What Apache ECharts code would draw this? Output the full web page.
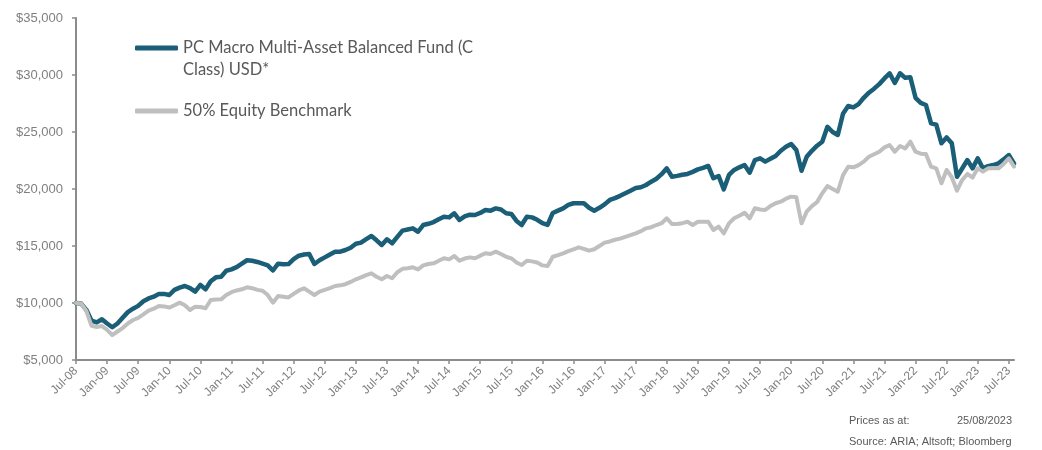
<!DOCTYPE html>
<html>
<head>
<meta charset="utf-8">
<script src="https://cdn.jsdelivr.net/npm/echarts@6/dist/echarts.min.js"></script>
<style>
  body { margin: 0; background: #fff; }
  #main { width: 1042px; height: 450px; }
</style>
</head>
<body>
<div id="main"></div>
<script>
// monthly values, Jul-08 .. Aug-23 (growth of $10,000)
const fundName = 'PC Macro Multi-Asset Balanced Fund (C Class) USD*'
const benchName = '50% Equity Benchmark'

const fund = [
  10000, 9950, 9400, 8450, 8300, 8570, 8200, 7870, 8200, 8700,
  9200, 9500, 9750, 10150, 10400, 10550, 10800, 10800, 10700, 11150,
  11350, 11490, 11300, 10990, 11580, 11200, 11900, 12250, 12310, 12830,
  12950, 13150, 13450, 13750, 13700, 13600, 13450, 13300, 12850, 13450,
  13400, 13420, 13850, 14150, 14250, 14300, 13420, 13750, 14000, 14250,
  14500, 14500, 14650, 14850, 15200, 15300, 15600, 15880, 15500, 15090,
  15590, 15240, 15800, 16350, 16450, 16550, 16250, 16840, 16950, 17100,
  17350, 17570, 17510, 17870, 17280, 17600, 17750, 17720, 17900, 18160,
  18100, 18300, 18200, 17870, 17810, 17200, 16840, 17570, 17510, 17300,
  17000, 16850, 17900, 18100, 18300, 18600, 18750, 18750, 18750, 18350,
  18100, 18350, 18650, 19040, 19200, 19400, 19620, 19850, 20080, 20150,
  20350, 20640, 20900, 21300, 21810, 21080, 21150, 21250, 21320, 21500,
  21720, 21850, 22020, 20940, 21140, 19970, 21230, 21670, 21900, 22110,
  21430, 22540, 22690, 22400, 22650, 22890, 23360, 23700, 23950, 23420,
  21600, 22830, 23350, 23800, 24150, 25460, 25000, 24740, 26600, 27280,
  27160, 27450, 28000, 28450, 28800, 29200, 29700, 30150, 29300, 30150,
  29750, 29800, 28000, 27550, 27370, 25760, 25650, 24010, 24530, 24010,
  21080, 21800, 22540, 21810, 22690, 21810, 22000, 22100, 22250, 22600,
  22980, 22250
]

const bench = [
  10000, 9950, 9300, 8000, 7900, 7980, 7650, 7190, 7500, 7800,
  8200, 8510, 8700, 9000, 9330, 9500, 9740, 9700, 9600, 9800,
  10030, 9800, 9390, 9680, 9650, 9540, 10260, 10300, 10320, 10700,
  10950, 11100, 11200, 11380, 11300, 11150, 11080, 10700, 10030, 10610,
  10550, 10490, 10800, 11100, 11290, 11000, 10700, 11000, 11150, 11300,
  11490, 11550, 11650, 11850, 12080, 12250, 12450, 12600, 12300, 12080,
  12370, 12170, 12700, 13000, 13050, 13130, 12950, 13300, 13420, 13480,
  13700, 13920, 13830, 14120, 13710, 13900, 14000, 13920, 14150, 14360,
  14300, 14500, 14300, 14060, 13920, 13550, 13330, 13710, 13650, 13550,
  13300, 13250, 14060, 14200, 14360, 14550, 14710, 14880, 14750, 14590,
  14710, 15000, 15300, 15400, 15550, 15650, 15800, 15950, 16110, 16300,
  16550, 16650, 16840, 17000, 17430, 16930, 16930, 17000, 17130, 16840,
  17130, 17130, 17130, 16400, 16700, 16110, 16990, 17430, 17650, 17920,
  17430, 18310, 18200, 18160, 18500, 18750, 18890, 19150, 19330, 19270,
  16990, 18010, 18500, 18850, 19620, 20260, 20000, 19770, 21200, 21960,
  21900, 22100, 22400, 22830, 23050, 23270, 23650, 23850, 23270, 23770,
  23560, 24150, 23270, 23100, 23070, 21960, 21810, 20500, 21670, 21030,
  19850, 20790, 21320, 21000, 21810, 21520, 21810, 21850, 21810, 22200,
  22690, 21960
]

const monthNames = ['Jan', 'Feb', 'Mar', 'Apr', 'May', 'Jun', 'Jul', 'Aug', 'Sep', 'Oct', 'Nov', 'Dec']
const dates = []
for (let i = 0; i < fund.length; i++) {
  const k = 6 + i
  dates.push(monthNames[k % 12] + '-' + String(8 + Math.floor(k / 12)).padStart(2, '0'))
}

const yMin = 5000
const yMax = 35000
const yStep = 5000

const axisGrey = '#8c8c8c'
const labelGrey = '#7f7f7f'
const textGrey = '#595959'

const myChart = echarts.init(document.getElementById('main'))
const option = {
  animation: false,
  grid: { left: 76, right: 28, top: 18, bottom: 90 },
  legend: [
    {
      data: [fundName],
      left: 135, top: 15, padding: 0,
      icon: 'roundRect', itemWidth: 43, itemHeight: 5,
      formatter: () => '\nPC Macro Multi-Asset Balanced Fund (C\nClass) USD*',
      textStyle: { fontFamily: 'Lato', fontSize: 16.5, color: textGrey, lineHeight: 22 }
    },
    {
      data: [benchName],
      left: 135, top: 100, padding: 0,
      icon: 'roundRect', itemWidth: 43, itemHeight: 5,
      textStyle: { fontFamily: 'Lato', fontSize: 16.5, color: textGrey, lineHeight: 22 }
    }
  ],
  xAxis: {
    type: 'category',
    data: dates,
    boundaryGap: false,
    axisLine: { lineStyle: { color: axisGrey, width: 2 } },
    axisTick: { interval: 5, length: 4, lineStyle: { color: axisGrey, width: 1.5 } },
    axisLabel: {
      interval: 5, rotate: 45, margin: 9,
      fontFamily: 'Liberation Sans', fontSize: 12, color: labelGrey
    },
    splitLine: { show: false }
  },
  yAxis: {
    type: 'value',
    min: yMin, max: yMax, interval: yStep,
    axisLine: { show: true, lineStyle: { color: axisGrey, width: 2 } },
    axisTick: { show: true, length: 4, lineStyle: { color: axisGrey, width: 1.5 } },
    axisLabel: {
      margin: 13,
      fontFamily: 'Liberation Sans', fontSize: 13, color: labelGrey,
      formatter: v => '$' + v.toLocaleString('en-US')
    },
    splitLine: { show: false }
  },
  series: [
    {
      name: fundName, type: 'line', data: fund,
      showSymbol: false, symbol: 'none',
      itemStyle: { color: '#1a5e77' },
      lineStyle: { color: '#1a5e77', width: 4.5, cap: 'round', join: 'round' }
    },
    {
      name: benchName, type: 'line', data: bench,
      showSymbol: false, symbol: 'none',
      itemStyle: { color: '#bfbfbf' },
      lineStyle: { color: '#bfbfbf', width: 4, cap: 'round', join: 'round' }
    }
  ],
  graphic: [
    { type: 'text', left: 849, top: 415, style: { text: 'Prices as at:', fontFamily: 'Liberation Sans', fontSize: 11, fill: textGrey } },
    { type: 'text', right: 30, top: 415, style: { text: '25/08/2023', fontFamily: 'Liberation Sans', fontSize: 11, fill: textGrey } },
    { type: 'text', left: 849, top: 436, style: { text: 'Source: ARIA; Altsoft; Bloomberg', fontFamily: 'Liberation Sans', fontSize: 11, fill: textGrey } }
  ]
}
myChart.setOption(option)
</script>
</body>
</html>
